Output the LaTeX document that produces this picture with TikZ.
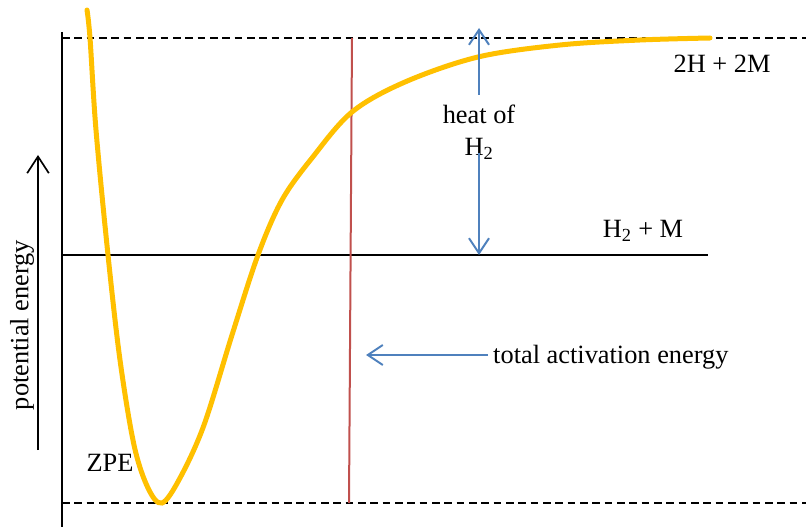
\documentclass[tikz,border=0pt]{standalone}
\usepackage{fontspec}
\setmainfont{Liberation Serif}
\usetikzlibrary{arrows.meta, positioning, calc}
\definecolor{pecurve}{HTML}{FFC000}
\definecolor{peblue}{HTML}{4F81BD}
\definecolor{pered}{HTML}{C0504D}

\begin{document}
\begin{tikzpicture}[x=0.3mm, y=-0.3mm,
    lbl/.style={font=\fontsize{22.5}{27}\selectfont, inner sep=0pt},
    limitline/.style={black, line width=0.65mm, dash pattern=on 2.3mm off 1.4mm},
    levelline/.style={black, line width=0.65mm},
    bluearrow/.style={-{Straight Barb[length=4.5mm, width=6mm]}, peblue, line width=0.6mm},
]
\useasboundingbox (0,0) rectangle (806,527);

% axes and energy levels
\draw[levelline] (62,32) -- (62,527);
\draw[limitline] (62,38) -- (806,38);
\draw[limitline] (62,503) -- (806,503);
\draw[levelline] (62,255) -- (708,255);

\coordinate (pebottom) at (38,450);
\coordinate (petop)    at (38,155);
\draw[-{Straight Barb[length=5mm, width=6.5mm]}, line width=0.5mm] (pebottom) -- (petop);
\node[lbl, rotate=90] (pelabel) at (22,325) {potential energy};

% total activation energy
\draw[pered, line width=0.6mm] (352,38) -- (349,503);

% potential energy curve
\draw[pecurve, line width=1.5mm, line cap=round] plot[smooth, tension=0.55] coordinates {
    (87,10) (90,38) (96,130) (108,255) (120,360) (134,445) (148,488) (162,503)
    (180,478) (204,425) (232,335) (258,255) (282,200) (312,158) (352,112)
    (405,82) (478,57) (560,45) (640,40) (710,38)};

% labels
\node[lbl, anchor=base] (atoms) at (722,73) {2H + 2M};
\node[lbl, anchor=base] (molec) at (643,238) {H\textsubscript{2} + M};
\node[lbl, anchor=base] (zpe)   at (110,471) {ZPE};

\node[lbl, align=center] (heat) at (479,132) {heat of\\H\textsubscript{2}};
\coordinate (heattop) at (479,28);
\coordinate (heatbot) at (479,255);
\draw[bluearrow] ([yshift=3mm]heat.north) -- (heattop);
\draw[bluearrow] ([yshift=2mm]heat.south) -- (heatbot);

\node[lbl, anchor=west] (total) at (493,357) {total activation energy};
\coordinate (totaltip) at (366,355);
\draw[bluearrow] ([xshift=-1.5mm]total.west |- totaltip) -- (totaltip);
\end{tikzpicture}
\end{document}
